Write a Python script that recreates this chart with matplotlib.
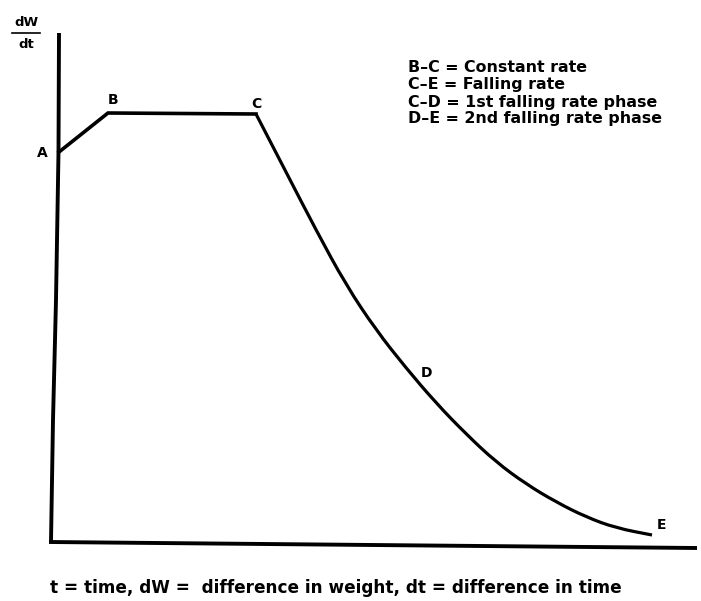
import matplotlib.pyplot as plt
from matplotlib.path import Path
from matplotlib.patches import PathPatch
import numpy as np

# drying-rate curve, units: t along x, dW/dt up (corner of axes = 0,0)
rise_t = [8, 57, 205]           # A -> B -> C
rise_w = [390, 429, 428]
fall_t = [205, 235, 265, 295, 325, 355, 385, 415, 445, 475, 505, 535, 565, 601]   # C -> E
fall_w = [428, 370, 312, 257, 212, 174, 139, 108, 80, 58, 40, 25, 14, 7]

# hand-drawn axis lines
yaxis_t = [8, 7.5, 5, 2, 0]
yaxis_w = [509, 390, 242, 122, 0]
xaxis_t = [-2, 646]
xaxis_w = [0, -6]

point_names = ['A', 'B', 'C', 'D', 'E']
point_t = [-9, 62, 205, 376, 611]
point_w = [389, 442, 438, 169, 17]

legend_lines = ['B\u2013C = Constant rate',
                'C\u2013E = Falling rate',
                'C\u2013D = 1st falling rate phase',
                'D\u2013E = 2nd falling rate phase']
legend_w = [475, 458, 440, 423]

footnote = 't = time, dW =  difference in weight, dt = difference in time'

plt.rcParams['font.family'] = ['DejaVu Sans']

fig = plt.figure(figsize=(7.01, 6.01), dpi=100)
ax = fig.add_axes([0, 0, 1, 1])
ax.set_xlim(-51, 650)
ax.set_ylim(-59, 542)
ax.axis('off')

ax.plot(yaxis_t, yaxis_w, color='black', linewidth=2.8, solid_capstyle='butt', solid_joinstyle='round')
ax.plot(xaxis_t, xaxis_w, color='black', linewidth=2.8, solid_capstyle='butt')
ax.plot(rise_t, rise_w, color='black', linewidth=2.6, solid_joinstyle='miter')

# smooth falling part: quadratic pieces through the midpoints
pts = np.column_stack([fall_t, fall_w]).astype(float)
mids = (pts[:-1] + pts[1:]) / 2
verts = [pts[0], mids[0]]
codes = [Path.MOVETO, Path.LINETO]
for i in range(1, len(pts) - 1):
    verts += [pts[i], mids[i]]
    codes += [Path.CURVE3, Path.CURVE3]
verts.append(pts[-1])
codes.append(Path.LINETO)
ax.add_patch(PathPatch(Path(verts, codes), facecolor='none', edgecolor='black',
                       linewidth=2.3, capstyle='butt'))

for name, t, w in zip(point_names, point_t, point_w):
    ax.text(t, w, name, fontsize=10, fontweight='bold', ha='center', va='center')

# y label as a fraction
ax.text(-25, 519, 'dW', fontsize=9.5, fontweight='bold', ha='center', va='center')
ax.plot([-39, -11], [509, 509], color='black', linewidth=1.2)
ax.text(-25, 497, 'dt', fontsize=9.5, fontweight='bold', ha='center', va='center')

for line, w in zip(legend_lines, legend_w):
    ax.text(357, w, line, fontsize=11.4, fontweight='bold', ha='left', va='center')

ax.text(-1, -46, footnote, fontsize=12.2, fontweight='bold', ha='left', va='center')

plt.savefig('out.png', dpi=100)
